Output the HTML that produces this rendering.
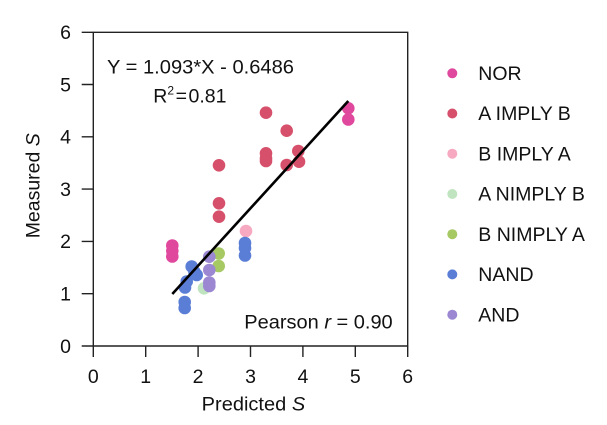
<!DOCTYPE html>
<html><head><meta charset="utf-8"><style>
html,body{margin:0;padding:0;background:#fff;}
svg{display:block;}
text{font-family:"Liberation Sans",Arial,sans-serif;fill:#111;}
</style></head><body>
<svg width="607" height="425" viewBox="0 0 607 425" xmlns="http://www.w3.org/2000/svg">
<rect width="607" height="425" fill="#fff"/>
<!-- frame -->
<g stroke="#222" stroke-width="1.4" fill="none">
<path d="M93.3 32.3 H407.7 V346 H93.3 Z"/>
<path d="M81.7 346 H93.3 M81.7 293.7 H93.3 M81.7 241.4 H93.3 M81.7 189.1 H93.3 M81.7 136.8 H93.3 M81.7 84.5 H93.3 M81.7 32.3 H93.3"/>
<path d="M93.3 346 V357 M145.7 346 V357 M198.1 346 V357 M250.5 346 V357 M302.9 346 V357 M355.3 346 V357 M407.7 346 V357"/>
</g>
<!-- y tick labels -->
<g font-size="19.5" text-anchor="end">
<text x="71" y="352.8">0</text>
<text x="71" y="300.5">1</text>
<text x="71" y="248.2">2</text>
<text x="71" y="195.9">3</text>
<text x="71" y="143.6">4</text>
<text x="71" y="91.3">5</text>
<text x="71" y="39.1">6</text>
</g>
<!-- x tick labels -->
<g font-size="19.5" text-anchor="middle">
<text x="93.3" y="383">0</text>
<text x="145.7" y="383">1</text>
<text x="198.1" y="383">2</text>
<text x="250.5" y="383">3</text>
<text x="302.9" y="383">4</text>
<text x="355.3" y="383">5</text>
<text x="407.7" y="383">6</text>
</g>
<!-- axis titles -->
<text x="201.7" y="410.7" font-size="19.5" textLength="103.5" lengthAdjust="spacingAndGlyphs">Predicted <tspan font-style="italic">S</tspan></text>
<text transform="translate(39.5,238.3) rotate(-90)" font-size="19.5" textLength="105" lengthAdjust="spacingAndGlyphs">Measured <tspan font-style="italic">S</tspan></text>
<!-- annotations -->
<text x="107" y="73.3" font-size="19.5" textLength="187" lengthAdjust="spacingAndGlyphs">Y = 1.093*X - 0.6486</text>
<text x="153.3" y="102.3" font-size="19.5">R<tspan font-size="12" dy="-8">2</tspan><tspan dy="8" dx="1.5">=</tspan><tspan dx="1.5">0.81</tspan></text>
<text x="244.3" y="328.3" font-size="19.5" textLength="148.4" lengthAdjust="spacingAndGlyphs">Pearson <tspan font-style="italic">r</tspan> = 0.90</text>
<!-- points -->
<g fill="#e0489d">
<circle cx="172.3" cy="245.5" r="6.3"/><circle cx="172.3" cy="251" r="6.3"/><circle cx="172.3" cy="256.5" r="6.3"/>
<circle cx="348.3" cy="108.3" r="6.3"/><circle cx="348.3" cy="119.5" r="6.3"/>
</g>
<g fill="#d6506b">
<circle cx="266" cy="112.7" r="6.3"/><circle cx="286.7" cy="130.7" r="6.3"/>
<circle cx="219" cy="165.3" r="6.3"/><circle cx="219" cy="203.3" r="6.3"/><circle cx="219" cy="216.7" r="6.3"/>
<circle cx="266" cy="153.3" r="6.3"/><circle cx="266" cy="158.3" r="6.3"/><circle cx="266" cy="161" r="6.3"/>
<circle cx="286.7" cy="165" r="6.3"/><circle cx="298.3" cy="151" r="6.3"/><circle cx="299" cy="161.7" r="6.3"/>
</g>
<g fill="#f6a9c0"><circle cx="246" cy="231" r="6.3"/></g>
<g fill="#bfe4bf"><circle cx="204" cy="288.3" r="6.3"/></g>
<g fill="#a6c964"><circle cx="218.7" cy="253.5" r="6.3"/><circle cx="218.7" cy="266" r="6.3"/></g>
<g fill="#5a7dd6">
<circle cx="245" cy="243" r="6.3"/><circle cx="245" cy="248" r="6.3"/><circle cx="245" cy="255.5" r="6.3"/>
<circle cx="191.7" cy="266.5" r="6.3"/><circle cx="194.5" cy="272" r="6.3"/><circle cx="196.7" cy="275" r="6.3"/>
<circle cx="186.7" cy="281.5" r="6.3"/><circle cx="185" cy="287.5" r="6.3"/>
<circle cx="184.7" cy="302" r="6.3"/><circle cx="184.7" cy="308" r="6.3"/>
</g>
<g fill="#9c88d2">
<circle cx="209.3" cy="256.7" r="6.3"/><circle cx="209.3" cy="270" r="6.3"/><circle cx="209.3" cy="282.5" r="6.3"/><circle cx="209.3" cy="286" r="6.3"/>
</g>
<!-- regression line -->
<line x1="172.3" y1="294" x2="348.3" y2="101" stroke="#000" stroke-width="2.6"/>
<!-- legend -->
<g>
<circle cx="452.3" cy="73.3" r="5" fill="#e0489d"/>
<circle cx="452.3" cy="113.5" r="5" fill="#d6506b"/>
<circle cx="452.3" cy="153.7" r="5" fill="#f6a9c0"/>
<circle cx="452.3" cy="194" r="5" fill="#bfe4bf"/>
<circle cx="452.3" cy="234.2" r="5" fill="#a6c964"/>
<circle cx="452.3" cy="274.4" r="5" fill="#5a7dd6"/>
<circle cx="452.3" cy="314.7" r="5" fill="#9c88d2"/>
</g>
<g font-size="19.5">
<text x="478.3" y="80">NOR</text>
<text x="478.3" y="120.2">A IMPLY B</text>
<text x="478.3" y="160.4">B IMPLY A</text>
<text x="478.3" y="200.7">A NIMPLY B</text>
<text x="478.3" y="240.9">B NIMPLY A</text>
<text x="478.3" y="281.1">NAND</text>
<text x="478.3" y="321.4">AND</text>
</g>
</svg>
</body></html>
